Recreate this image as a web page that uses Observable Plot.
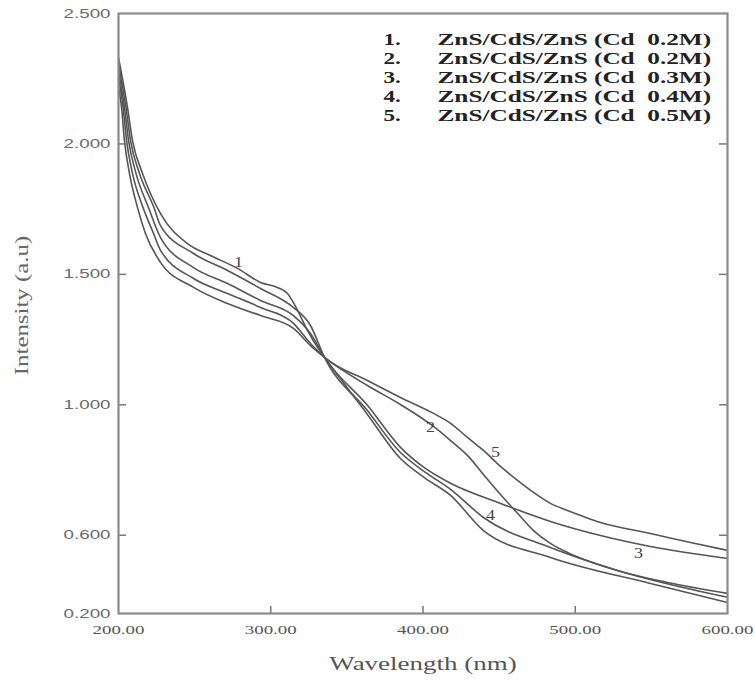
<!DOCTYPE html>
<html><head><meta charset="utf-8">
<script src="https://cdn.jsdelivr.net/npm/d3@7"></script>
<script src="https://cdn.jsdelivr.net/npm/@observablehq/plot@0.6"></script>
<style>
body{margin:0;background:#fff;}
#chart svg{display:block;}
</style></head><body>
<div id="chart"></div>
<script>
// ---- data ----
const seriesIds = ["1", "2", "3", "4", "5"];

const curve1X = [200, 205.9, 209.2, 215.8, 227.6, 245.3, 260.4, 278.2, 293.3, 304.4, 311.0, 317.6, 324.1, 330.7, 335.3, 363.5, 385.2, 401.6, 418.1, 439.7, 483.7, 549.4, 600];
const curve1Y = [2.331, 2.140, 2.013, 1.887, 1.733, 1.618, 1.572, 1.523, 1.469, 1.450, 1.427, 1.362, 1.285, 1.220, 1.182, 0.963, 0.794, 0.718, 0.653, 0.518, 0.415, 0.315, 0.242];

const curve2X = [200, 202.0, 203.9, 207.2, 212.5, 217.7, 227.6, 249.3, 271.6, 293.3, 314.9, 326.1, 335.3, 363.5, 385.2, 406.9, 418.1, 429.2, 439.7, 450.9, 462.1, 472.6, 483.7, 494.9, 527.7, 560.6, 600];
const curve2Y = [2.220, 2.140, 2.013, 1.887, 1.756, 1.657, 1.546, 1.450, 1.388, 1.342, 1.293, 1.227, 1.182, 1.074, 1.001, 0.917, 0.863, 0.806, 0.733, 0.656, 0.584, 0.518, 0.469, 0.434, 0.365, 0.319, 0.277];

const curve3X = [200, 203.9, 206.6, 211.5, 219.7, 227.6, 249.3, 271.6, 293.3, 314.9, 326.1, 335.3, 363.5, 385.2, 401.6, 418.1, 450.9, 483.7, 516.6, 549.4, 600];
const curve3Y = [2.278, 2.140, 2.013, 1.887, 1.756, 1.641, 1.526, 1.465, 1.400, 1.342, 1.273, 1.182, 0.998, 0.837, 0.756, 0.699, 0.622, 0.553, 0.499, 0.457, 0.411];

const curve4X = [200, 204.9, 207.9, 213.8, 223.3, 227.6, 249.3, 271.6, 293.3, 314.9, 326.1, 335.3, 363.5, 385.2, 401.6, 418.1, 439.7, 483.7, 527.7, 600];
const curve4Y = [2.308, 2.140, 2.013, 1.887, 1.756, 1.687, 1.580, 1.515, 1.446, 1.373, 1.304, 1.182, 0.978, 0.817, 0.741, 0.676, 0.568, 0.453, 0.365, 0.262];

const curve5X = [200, 203.0, 205.3, 209.2, 216.1, 223.0, 227.6, 249.3, 271.6, 293.3, 314.9, 326.1, 335.3, 363.5, 385.2, 406.9, 418.1, 429.2, 439.7, 450.9, 462.1, 472.6, 483.7, 494.9, 505.4, 516.6, 549.4, 575.7, 600];
const curve5Y = [2.251, 2.140, 2.013, 1.887, 1.756, 1.657, 1.592, 1.484, 1.427, 1.373, 1.312, 1.235, 1.182, 1.093, 1.028, 0.967, 0.929, 0.875, 0.825, 0.764, 0.710, 0.664, 0.622, 0.595, 0.572, 0.549, 0.507, 0.472, 0.442];

const legendNumbers = ["1.", "2.", "3.", "4.", "5."];
const legendNames = [
  "ZnS/CdS/ZnS (Cd\u00a0 0.2M)",
  "ZnS/CdS/ZnS (Cd\u00a0 0.2M)",
  "ZnS/CdS/ZnS (Cd\u00a0 0.3M)",
  "ZnS/CdS/ZnS (Cd\u00a0 0.4M)",
  "ZnS/CdS/ZnS (Cd\u00a0 0.5M)"
];

const curveLabelText = ["1", "2", "5", "4", "3"];
const curveLabelX = [278.8, 405.0, 447.6, 444.3, 541.5];
const curveLabelY = [1.546, 0.915, 0.817, 0.576, 0.430];

const xTicks = [200, 300, 400, 500, 600];
const xTickLabels = ["200.00", "300.00", "400.00", "500.00", "600.00"];
const xInnerTicks = [300, 400, 500];
const yTicks = [2.5, 2.0, 1.5, 1.0, 0.5, 0.2];
const yTickLabels = ["2.500", "2.000", "1.500", "1.000", "0.600", "0.200"];
const yInnerTicks = [2.0, 1.5, 1.0, 0.5];

const xTitle = "Wavelength (nm)";
const yTitle = "Intensity (a.u)";

// ---- build table ----
const curvesX = [curve1X, curve2X, curve3X, curve4X, curve5X];
const curvesY = [curve1Y, curve2Y, curve3Y, curve4Y, curve5Y];
const rows = [];
seriesIds.forEach((s, i) => curvesX[i].forEach((x, j) => rows.push({s, x, y: curvesY[i][j]})));
const curveLabels = curveLabelText.map((t, i) => ({t, x: curveLabelX[i], y: curveLabelY[i]}));

// ---- layout ----
const W = 755, H = 683;
const mL = 118, mR = 28, mT = 13, mB = 70;
const fW = W - mL - mR, fH = H - mT - mB;
const serif = "'Liberation Serif', 'Times New Roman', serif";
const sans = "'Liberation Sans', Arial, sans-serif";

// text marks, in the order they are stretched afterwards: [name, widen factor, mark]
const textMarks = [
  ["ytl", 1.5, Plot.text(yTicks, {y: d => d, text: (d, i) => yTickLabels[i], frameAnchor: "left", textAnchor: "end", dx: -8,
      fontSize: 12.5, fontFamily: sans, fill: "#6a6a6a"})],
  ["xtl", 1.45, Plot.text(xTicks, {x: d => d, text: (d, i) => xTickLabels[i], frameAnchor: "bottom", lineAnchor: "top", dy: 11,
      fontSize: 13, fontFamily: serif, fill: "#555"})],
  ["xtitle", 1.42, Plot.text([xTitle], {frameAnchor: "bottom", lineAnchor: "middle", dy: 50, fontSize: 19, fontFamily: serif, fill: "#555"})],
  ["ytitle", 1.38, Plot.text([yTitle], {frameAnchor: "left", rotate: -90, lineAnchor: "middle", dx: -96, dy: -8, fontSize: 18, fontFamily: serif, fill: "#666"})],
  ["clab", 1.2, Plot.text(curveLabels, {x: "x", y: "y", text: "t", fontSize: 15, fontFamily: serif, fill: "#444"})],
  ["lnum", 1.4, Plot.text([legendNumbers.join("\n")], {frameAnchor: "top-right", textAnchor: "start", lineAnchor: "top", dx: -344, dy: 18,
      lineHeight: 1.15, fontSize: 16.5, fontWeight: "bold", fontFamily: serif, fill: "#222"})],
  ["lname", 1.53, Plot.text([legendNames.join("\n")], {frameAnchor: "top-right", textAnchor: "start", lineAnchor: "top", dx: -290, dy: 18,
      lineHeight: 1.15, fontSize: 16.5, fontWeight: "bold", fontFamily: serif, fill: "#222"})]
];

const plot = Plot.plot({
  width: W, height: H,
  marginLeft: mL, marginRight: mR, marginTop: mT, marginBottom: mB,
  x: {domain: [200, 600], axis: null},
  y: {domain: [0.2, 2.5], axis: null},
  style: {background: "#fff"},
  marks: [
    Plot.line(rows, {x: "x", y: "y", z: "s", stroke: "#555", strokeWidth: 1.6, curve: "monotone-x"}),
    Plot.tickY(yInnerTicks, {y: d => d, insetRight: fW - 8, stroke: "#777", strokeWidth: 1.5}),
    Plot.tickY(yInnerTicks, {y: d => d, insetLeft: fW - 8, stroke: "#777", strokeWidth: 1.5}),
    Plot.tickX(xInnerTicks, {x: d => d, insetTop: fH - 7, stroke: "#777", strokeWidth: 1.5}),
    Plot.frame({stroke: "#8a8a8a", strokeWidth: 2.2}),
    ...textMarks.map(d => d[2])
  ]
});
document.getElementById("chart").appendChild(plot);

// widen glyphs to match the reference's horizontally stretched lettering
const textGroups = plot.querySelectorAll('g[aria-label="text"]');
textMarks.forEach((m, i) => {
  const g = textGroups[i];
  if (!g) return;
  const k = m[1];
  g.querySelectorAll("text").forEach(t => {
    const spans = t.querySelectorAll("tspan");
    const els = spans.length ? Array.from(spans) : [t];
    els.forEach(e => {
      const len = e.getComputedTextLength();
      if (len > 0) {
        e.setAttribute("textLength", len * k);
        e.setAttribute("lengthAdjust", "spacingAndGlyphs");
      }
    });
    if (m[0] === "ytitle") {
      // re-centre the rotated title along its reading direction
      const bb = t.getBBox();
      const shift = -(bb.x + bb.width / 2);
      const tr = t.getAttribute("transform") || "";
      t.setAttribute("transform", tr + ` translate(${shift},0)`);
    }
  });
});
</script>
</body></html>
